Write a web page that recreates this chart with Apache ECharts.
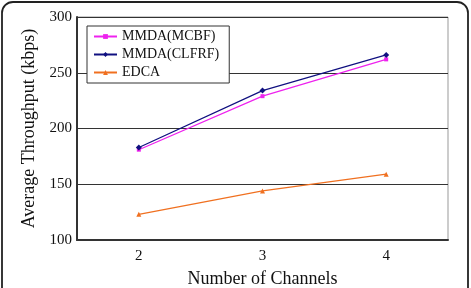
<!DOCTYPE html>
<html>
<head>
<meta charset="utf-8">
<script src="https://cdn.jsdelivr.net/npm/echarts@6/dist/echarts.min.js"></script>
<style>
  html, body { margin: 0; padding: 0; background: #fff; }
  #chart { width: 471px; height: 288px; }
</style>
</head>
<body>
<div id="chart"></div>
<script>
// data
var channels = ['2', '3', '4'];
var mcbf = [181, 229, 262];
var clfrf = [183, 234, 266];
var edca = [123, 144, 159];

var serif = '"Liberation Serif", "Times New Roman", serif';

var chart = echarts.init(document.getElementById('chart'));
chart.setOption({
  animation: false,
  backgroundColor: '#fff',
  graphic: [{
    type: 'rect',
    shape: { x: 2, y: 2, width: 466, height: 300, r: 11 },
    style: { fill: 'none', stroke: '#222', lineWidth: 1.8 },
    z: 0
  }],
  grid: {
    left: 77, top: 17, right: 23, bottom: 48,
    outerBoundsMode: 'none',
    containLabel: false,
    show: true, borderColor: '#999', borderWidth: 1
  },
  legend: {
    orient: 'vertical',
    left: 87, top: 26,
    padding: [3, 10, 3, 6],
    itemGap: 3,
    itemWidth: 23,
    itemHeight: 6,
    backgroundColor: '#fff',
    borderColor: '#333',
    borderWidth: 1,
    borderRadius: 0,
    textStyle: { fontFamily: serif, fontSize: 14, color: '#111', lineHeight: 15 },
    data: ['MMDA(MCBF)', 'MMDA(CLFRF)', 'EDCA']
  },
  xAxis: {
    type: 'category',
    data: channels,
    boundaryGap: true,
    name: 'Number of Channels',
    nameLocation: 'middle',
    nameGap: 30,
    nameTextStyle: { fontFamily: serif, fontSize: 18, color: '#111' },
    axisLine: { lineStyle: { color: '#333', width: 2 } },
    axisTick: { inside: true, length: 4, lineStyle: { color: '#333' } },
    axisLabel: { fontFamily: serif, fontSize: 15, color: '#111', margin: 9 }
  },
  yAxis: {
    type: 'value',
    min: 100, max: 300, interval: 50,
    name: 'Average Throughput (kbps)',
    nameLocation: 'middle',
    nameGap: 37,
    nameTextStyle: { fontFamily: serif, fontSize: 18, color: '#111' },
    axisLine: { show: true, lineStyle: { color: '#333', width: 2 } },
    axisTick: { show: false },
    axisLabel: { fontFamily: serif, fontSize: 15, color: '#111', margin: 5 },
    splitLine: { lineStyle: { color: '#333', width: 1 } }
  },
  series: [
    {
      name: 'MMDA(MCBF)', type: 'line', data: mcbf,
      symbol: 'rect', symbolSize: 4,
      lineStyle: { color: '#ee22ee', width: 1.2 },
      itemStyle: { color: '#ee22ee' }
    },
    {
      name: 'MMDA(CLFRF)', type: 'line', data: clfrf,
      symbol: 'diamond', symbolSize: 6,
      lineStyle: { color: '#101080', width: 1.2 },
      itemStyle: { color: '#101080' }
    },
    {
      name: 'EDCA', type: 'line', data: edca,
      symbol: 'triangle', symbolSize: 5,
      lineStyle: { color: '#f07020', width: 1.2 },
      itemStyle: { color: '#f07020' }
    }
  ]
});
</script>
</body>
</html>
